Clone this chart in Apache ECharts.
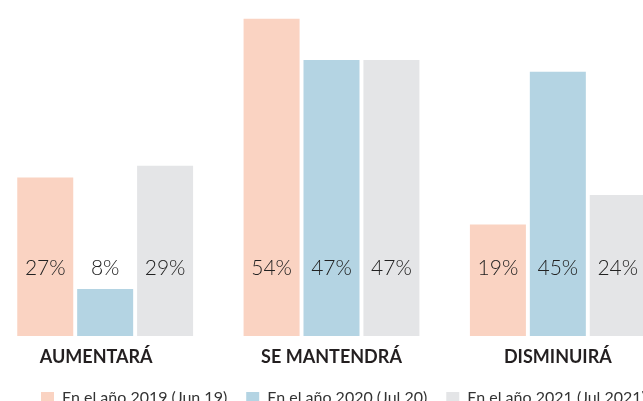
<!DOCTYPE html>
<html>
<head>
<meta charset="utf-8">
<script src="https://cdn.jsdelivr.net/npm/echarts@6/dist/echarts.min.js"></script>
<style>
  html, body { margin: 0; padding: 0; background: #fff; overflow: hidden; }
  /* the plot runs a little past both window edges, like the reference */
  #chart { position: absolute; left: -8px; top: 0; width: 679px; height: 401px; }
</style>
</head>
<body>
<div id="chart"></div>
<script>
const categories = ['AUMENTARÁ', 'SE MANTENDRÁ', 'DISMINUIRÁ'];
const seriesNames = ['En el año 2019 (Jun 19)', 'En el año 2020 (Jul 20)', 'En el año 2021 (Jul 2021)'];
const values2019 = [27, 54, 19];
const values2020 = [8, 47, 45];
const values2021 = [29, 47, 24];
const colors = ['#FAD3C2', '#B4D4E3', '#E4E5E7'];

const chart = echarts.init(document.getElementById('chart'));

const makeSeries = (name, data, color) => ({
  name,
  type: 'bar',
  data,
  barWidth: 56,
  barGap: '7%',
  itemStyle: { color },
  label: {
    show: true,
    position: 'insideBottom',
    distance: 57,
    formatter: '{c}%',
    fontFamily: 'Lato',
    fontWeight: 300,
    fontSize: 21,
    color: '#222'
  },
  emphasis: { disabled: true }
});

// first category label sits a bit left of its bars in the original
const categoryData = categories.map((c, i) => (
  i === 0 ? { value: c, textStyle: { padding: [0, 18, 0, 0] } } : c
));

chart.setOption({
  animation: false,
  color: colors,
  grid: {
    left: 0,
    right: 0,
    top: 0,
    bottom: 65
  },
  legend: {
    data: seriesNames,
    top: 385,
    left: 44,
    itemWidth: 13,
    itemHeight: 12,
    itemGap: 19,
    icon: 'rect',
    textStyle: {
      fontFamily: 'Lato',
      fontSize: 16,
      color: '#333',
      padding: [0, 0, 0, 3]
    }
  },
  xAxis: {
    type: 'category',
    data: categoryData,
    axisLine: { show: false },
    axisTick: { show: false },
    axisLabel: {
      margin: 12,
      fontFamily: 'Lato',
      fontWeight: 'bold',
      fontSize: 18,
      color: '#231f20'
    }
  },
  yAxis: {
    type: 'value',
    min: 0,
    max: 57.2,
    show: false,
    splitLine: { show: false }
  },
  series: [
    makeSeries(seriesNames[0], values2019, colors[0]),
    makeSeries(seriesNames[1], values2020, colors[1]),
    makeSeries(seriesNames[2], values2021, colors[2])
  ]
});
</script>
</body>
</html>
